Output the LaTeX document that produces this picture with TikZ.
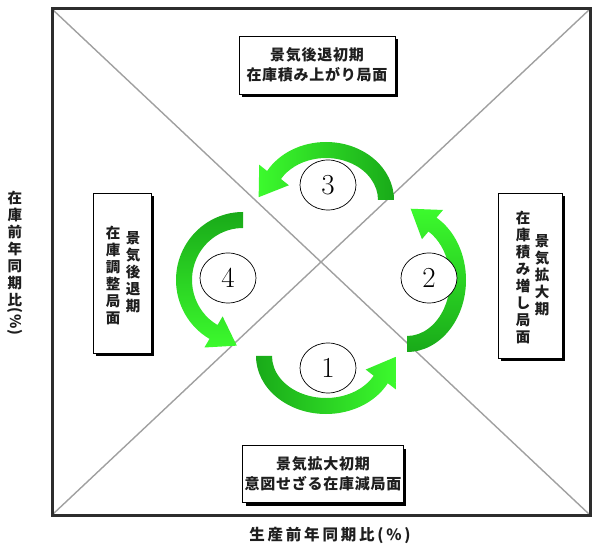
\documentclass[tikz,border=0pt]{standalone}
\usepackage{fontspec}
\newfontfamily\jp{Noto Sans CJK JP}[LetterSpace=5]
\newfontfamily\jpw{Noto Sans CJK JP}[LetterSpace=18]
\usetikzlibrary{shapes.geometric,shadows}
\definecolor{gdark}{RGB}{25,170,25}
\definecolor{glight}{RGB}{60,250,45}
\definecolor{framec}{RGB}{45,45,45}
\definecolor{diagc}{RGB}{160,160,160}
\definecolor{txtc}{RGB}{30,30,30}
% #1 cx, #2 cy, #3 rx, #4 ry, #5 start, #6 end, #7 shading options
\newcommand\greenarc[7]{%
 \pgfmathsetmacro\ga{#3+8}\pgfmathsetmacro\gb{#4+8}%
 \pgfmathsetmacro\gc{#3-8}\pgfmathsetmacro\gd{#4-8}%
 \pgfmathsetmacro\gox{#1+\ga*cos(#5)}\pgfmathsetmacro\goy{#2+\gb*sin(#5)}%
 \pgfmathsetmacro\gix{#1+\gc*cos(#6)}\pgfmathsetmacro\giy{#2+\gd*sin(#6)}%
 \pgfmathsetmacro\gpx{#1+#3*cos(#6)}\pgfmathsetmacro\gpy{#2+#4*sin(#6)}%
 \pgfmathsetmacro\gtx{0-#3*sin(#6)}\pgfmathsetmacro\gty{#4*cos(#6)}%
 \pgfmathsetmacro\gtn{veclen(\gtx,\gty)}%
 \pgfmathsetmacro\gux{\gtx/\gtn}\pgfmathsetmacro\guy{\gty/\gtn}%
 \pgfmathsetmacro\hax{\gpx+(\guy)*18}\pgfmathsetmacro\hay{\gpy-(\gux)*18}%
 \pgfmathsetmacro\hbx{\gpx-(\guy)*18}\pgfmathsetmacro\hby{\gpy+(\gux)*18}%
 \pgfmathsetmacro\htx{\gpx+(\gux)*27}\pgfmathsetmacro\hty{\gpy+(\guy)*27}%
 \shade[#7] (\gox,\goy) arc[start angle=#5,end angle=#6,x radius=\ga,y radius=\gb]
   -- (\hax,\hay) -- (\htx,\hty) -- (\hbx,\hby) -- (\gix,\giy)
   arc[start angle=#6,end angle=#5,x radius=\gc,y radius=\gd] -- cycle;%
}
\tikzset{
 box/.style={draw=black, line width=0.8pt, fill=white, inner sep=2pt,
   drop shadow={shadow xshift=3pt, shadow yshift=-3pt, opacity=1, fill=black}},
 jptext/.style={text=txtc, font=\jp\bfseries\fontsize{15}{20}\selectfont, align=center},
 axtext/.style={text=txtc, font=\jpw\bfseries\fontsize{15.5}{20}\selectfont, align=center},
 vtext/.style={text=txtc, font=\jp\bfseries\fontsize{14.5}{17}\selectfont, align=center, inner sep=0pt},
 numc/.style={draw=black, line width=0.7pt, ellipse, fill=white, minimum width=56, minimum height=50,
   inner sep=0pt, font=\fontsize{29}{29}\selectfont},
}
\begin{document}
\begin{tikzpicture}[x=1pt,y=1pt]
\useasboundingbox (0,0) rectangle (592,-553);
% frame and diagonals
\draw[diagc, line width=1.4pt] (52,-9) -- (590,-515);
\draw[diagc, line width=1.4pt] (52,-515) -- (590,-9);
\draw[framec, line width=3pt] (52,-9) rectangle (590,-515);
% arrows
\greenarc{326}{-356}{62}{50}{180}{332}{left color=gdark, right color=glight}
\greenarc{407}{-280}{51}{64}{270}{420}{bottom color=gdark, top color=glight}
\greenarc{326}{-200}{60}{50}{0}{150}{right color=gdark, left color=glight}
\greenarc{243}{-280}{59}{60}{90}{240}{top color=gdark, bottom color=glight}
% circled numbers
\node[numc] (n1) at (328,-368) {1};
\node[numc] (n2) at (429,-278) {2};
\node[numc] (n3) at (328,-185) {3};
\node[numc] (n4) at (228,-278) {4};
% boxes
\node[box, jptext, minimum width=156, minimum height=58] (top) at (317,-65) {景気後退初期\\在庫積み上がり局面};
\node[box, jptext, minimum width=158, minimum height=57] (bot) at (323,-474) {景気拡大初期\\意図せざる在庫減局面};
\node[box, minimum width=58, minimum height=160] (lbox) at (122,-273) {};
\node[vtext] (la) at (133,-272) {景\\気\\後\\退\\期};
\node[vtext] (lb) at (113,-275) {在\\庫\\調\\整\\局\\面};
\node[box, minimum width=64, minimum height=165] (rbox) at (530,-276) {};
\node[vtext] (ra) at (542,-275) {景\\気\\拡\\大\\期};
\node[vtext] (rb) at (523,-277) {在\\庫\\積\\み\\増\\し\\局\\面};
% axis labels
\node[vtext] (yax) at (15,-263) {在\\庫\\前\\年\\同\\期\\比\\\rotatebox[origin=c]{-90}{(\%)}};
\node[axtext] (xax) at (330,-535) {生産前年同期比(\%)};
\end{tikzpicture}
\end{document}
